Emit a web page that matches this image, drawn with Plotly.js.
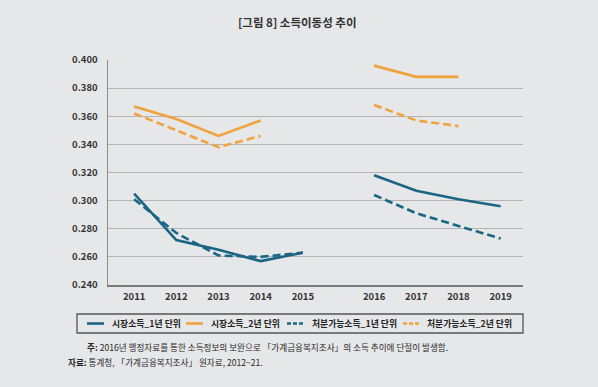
<!DOCTYPE html>
<html>
<head>
<meta charset="utf-8">
<script src="https://cdn.plot.ly/plotly-3.0.1.min.js"></script>
<style>
html,body{margin:0;padding:0;background:#e6e7e9;}
#chart{width:598px;height:387px;}
</style>
</head>
<body>
<div id="chart"></div>
<script>
// Data
const yearsA = [2011, 2012, 2013, 2014, 2015];
const yearsB = [2016, 2017, 2018, 2019];
const market1A = [0.305, 0.272, 0.265, 0.257, 0.263];
const market2A = [0.367, 0.358, 0.346, 0.357, null];
const disp1A   = [0.301, 0.277, 0.261, 0.260, 0.263];
const disp2A   = [0.362, 0.350, 0.338, 0.346, null];
const market1B = [0.318, 0.307, 0.301, 0.296];
const market2B = [0.396, 0.388, 0.388, null];
const disp1B   = [0.304, 0.291, 0.282, 0.273];
const disp2B   = [0.368, 0.357, 0.353, null];
const seriesNames = ['시장소득_1년 단위', '시장소득_2년 단위', '처분가능소득_1년 단위', '처분가능소득_2년 단위'];
const tickLabels = ['2011','2012','2013','2014','2015','2016','2017','2018','2019'];
const yTicks = [0.24, 0.26, 0.28, 0.30, 0.32, 0.34, 0.36, 0.38, 0.40];

const BLUE = '#1b6584';
const ORANGE = '#f0a23c';
const DASH = '8px,4px';
const GAP = 0.69;
const pos = y => (y <= 2015 ? y - 2011 : y - 2011 + GAP);
const posA = yearsA.map(pos), posB = yearsB.map(pos);
const allPos = yearsA.concat(yearsB).map(pos);

function mk(x, y, color, dash, name) {
  return {x: x, y: y, type: 'scatter', mode: 'lines', name: name, showlegend: false,
    line: {color: color, width: 2.6, dash: dash}, hoverinfo: 'skip'};
}
const traces = [
  mk(posA, market1A, BLUE, 'solid', seriesNames[0]),
  mk(posB, market1B, BLUE, 'solid', seriesNames[0]),
  mk(posA, market2A, ORANGE, 'solid', seriesNames[1]),
  mk(posB, market2B, ORANGE, 'solid', seriesNames[1]),
  mk(posA, disp1A, BLUE, DASH, seriesNames[2]),
  mk(posB, disp1B, BLUE, DASH, seriesNames[2]),
  mk(posA, disp2A, ORANGE, DASH, seriesNames[3]),
  mk(posB, disp2B, ORANGE, DASH, seriesNames[3])
];

// pixel -> paper helpers (plot area: x 108..523, y 60..285)
const PL = 108, PW = 415, PT = 60, PH = 225;
const px = v => (v - PL) / PW;
const py = v => (PT + PH - v) / PH;

const FONT = '"Noto Sans CJK KR", "Noto Sans", sans-serif';

// manual legend (box, samples, labels)
const legendItems = [
  {name: seriesNames[0], color: BLUE, dash: 'solid', x0: 87, x1: 104, tx: 110},
  {name: seriesNames[1], color: ORANGE, dash: 'solid', x0: 186, x1: 203, tx: 209},
  {name: seriesNames[2], color: BLUE, dash: '4px,2px', x0: 287, x1: 305, tx: 310},
  {name: seriesNames[3], color: ORANGE, dash: '4px,2px', x0: 403, x1: 420, tx: 425}
];
const LY = 323.5;
const shapes = [
  {type: 'rect', xref: 'paper', yref: 'paper', x0: px(77), x1: px(523), y0: py(314), y1: py(333),
   line: {color: '#555', width: 1.3}, fillcolor: 'rgba(0,0,0,0)'}
];
const annotations = [
  {text: '<b>[그림 8] 소득이동성 추이</b>', xref: 'paper', yref: 'paper', x: px(297), y: py(22),
   xanchor: 'center', yanchor: 'middle', showarrow: false, font: {family: FONT, size: 11.5, color: '#333'}},
  {text: '<b>주:</b> 2016년 행정자료를 통한 소득정보의 보완으로 「가계금융복지조사」의 소득 추이에 단절이 발생함.',
   xref: 'paper', yref: 'paper', x: px(85), y: py(347), xanchor: 'left', yanchor: 'middle',
   showarrow: false, font: {family: FONT, size: 8.6, color: '#2a2a2a'}},
  {text: '<b>자료:</b> 통계청, 「가계금융복지조사」 원자료, 2012~21.',
   xref: 'paper', yref: 'paper', x: px(66), y: py(362), xanchor: 'left', yanchor: 'middle',
   showarrow: false, font: {family: FONT, size: 8.6, color: '#2a2a2a'}}
];
legendItems.forEach(it => {
  shapes.push({type: 'line', xref: 'paper', yref: 'paper', x0: px(it.x0), x1: px(it.x1), y0: py(LY), y1: py(LY),
    line: {color: it.color, width: 2.6, dash: it.dash}});
  annotations.push({text: '<b>' + it.name + '</b>', xref: 'paper', yref: 'paper', x: px(it.tx), y: py(LY),
    xanchor: 'left', yanchor: 'middle', showarrow: false, font: {family: FONT, size: 8.8, color: '#222'}});
});

const layout = {
  width: 598, height: 387,
  paper_bgcolor: '#e6e7e9', plot_bgcolor: '#e6e7e9',
  margin: {l: PL, r: 598 - PL - PW, t: PT, b: 387 - PT - PH},
  font: {family: FONT, color: '#333', size: 10},
  showlegend: false,
  xaxis: {
    range: [-0.62, 9.22], tickvals: allPos, ticktext: tickLabels,
    showgrid: false, zeroline: false, showline: true, linecolor: '#7a7a7a', linewidth: 2,
    ticks: '', tickfont: {family: FONT, size: 9.5, color: '#333', weight: 'bold'}, ticklabelstandoff: 2
  },
  yaxis: {
    range: [0.24, 0.40], tickvals: yTicks,
    tickformat: '.3f', showgrid: true, gridcolor: '#b3b3b3', gridwidth: 1.2,
    zeroline: false, showline: true, linecolor: '#8a8a8a', linewidth: 1.5,
    ticks: '', tickfont: {family: FONT, size: 9.5, color: '#333', weight: 'bold'}, ticklabelstandoff: 7
  },
  shapes: shapes,
  annotations: annotations
};
Plotly.newPlot('chart', traces, layout, {staticPlot: true, displayModeBar: false});
</script>
</body>
</html>
